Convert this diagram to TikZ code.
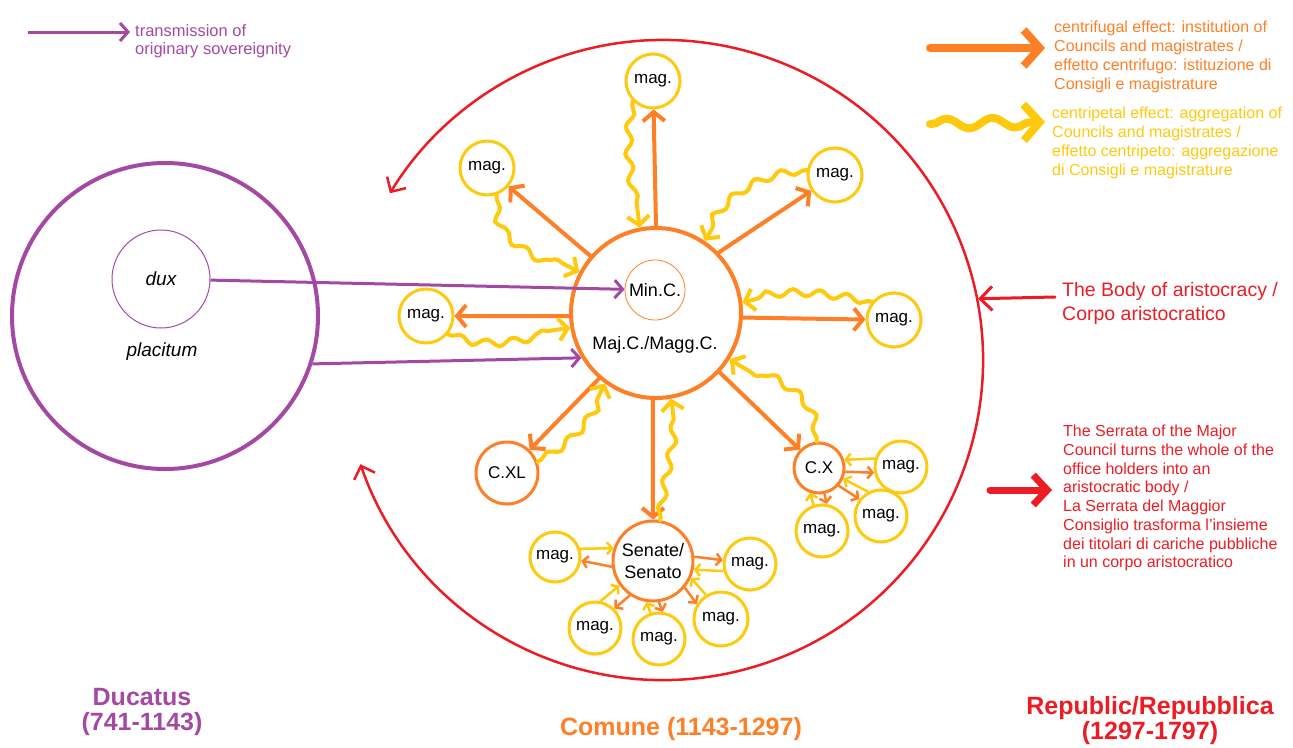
\documentclass[tikz,border=0pt]{standalone}
\usepackage{fontspec}
\setmainfont{Liberation Sans}
\usetikzlibrary{arrows.meta,decorations.pathmorphing,calc}
\definecolor{cpur}{HTML}{A349A4}
\definecolor{cred}{HTML}{ED1C24}
\definecolor{corg}{HTML}{FF7F27}
\definecolor{cyel}{HTML}{FFC90E}
\begin{document}
\begin{tikzpicture}[x=1pt,y=-1pt,
  magn/.style={circle,draw=cyel,line width=3pt,minimum size=54pt,inner sep=0pt,font=\fontsize{17}{20}\selectfont},
  council/.style={circle,draw=corg,line width=3pt,inner sep=0pt,font=\fontsize{18}{22}\selectfont,align=center},
  oarr/.style={draw=corg,line width=4pt,line cap=round,-{Straight Barb[length=9pt,width=22pt]}},
  yarr/.style={draw=cyel,line width=4pt,line cap=round,-{Straight Barb[length=9pt,width=22pt]},decorate,
     decoration={snake,amplitude=3.5pt,segment length=27pt,pre length=4pt,post length=12pt}},
  sarro/.style={draw=corg,line width=2.5pt,-{Straight Barb[length=5pt,width=12pt]}},
  sarry/.style={draw=cyel,line width=2.5pt,-{Straight Barb[length=5pt,width=12pt]}},
  parr/.style={draw=cpur,line width=3pt,-{Straight Barb[length=8pt,width=18pt]}},
  ltext/.style={anchor=north west,inner sep=0pt,align=left,font=\fontsize{16}{19}\selectfont},
  title/.style={align=center,inner sep=0pt,font=\bfseries\fontsize{25}{25}\selectfont}
]
\useasboundingbox (0,0) rectangle (1293,747);

% ---------- legend ----------
\coordinate (lpA) at (28,32);
\coordinate (lpB) at (130,32);
\draw[parr] (lpA) -- (lpB);
\node[ltext,text=cpur,font=\fontsize{16.5}{18}\selectfont] (lptxt) at (135,24) {transmission of\\originary sovereignity};

\coordinate (loA) at (930,48);
\coordinate (loB) at (1045,48);
\draw[draw=corg,line width=8pt,line cap=round,-{Straight Barb[length=16pt,width=36pt]}] (loA) -- (loB);
\node[ltext,text=corg] (lotxt) at (1054,21) {centrifugal effect: institution of\\Councils and magistrates /\\effetto centrifugo: istituzione di\\Consigli e magistrature};

\coordinate (lyA) at (930,124);
\coordinate (lyB) at (1045,122);
\draw[draw=cyel,line width=8pt,line cap=round,-{Straight Barb[length=16pt,width=36pt]},decorate,
  decoration={snake,amplitude=5pt,segment length=46pt,pre length=2pt,post length=14pt}] (lyA) -- (lyB);
\node[ltext,text=cyel] (lytxt) at (1052,107) {centripetal effect: aggregation of\\Councils and magistrates /\\effetto centripeto: aggregazione\\di Consigli e magistrature};

% ---------- Ducatus ----------
\node[circle,draw=cpur,line width=4pt,minimum size=306pt,inner sep=0pt] (plac) at (165,316) {};
\node[circle,draw=cpur,line width=1pt,minimum size=98pt,inner sep=0pt,font=\itshape\fontsize{19}{22}\selectfont] (dux) at (161,279) {dux};
\node[font=\itshape\fontsize{19}{22}\selectfont] (placl) at (162,352) {placitum};

% ---------- Comune ----------
\node[circle,draw=corg,line width=4pt,minimum size=170pt,inner sep=0pt] (maj) at (656,313) {};
\node[circle,draw=corg,line width=0.8pt,minimum size=60pt,inner sep=0pt,font=\fontsize{18}{21}\selectfont] (minc) at (655,290) {Min.C.};
\node[font=\fontsize{18}{21}\selectfont] (majl) at (655,345) {Maj.C./Magg.C.};

\node[magn] (mt) at (653,81) {mag.};
\node[magn] (mul) at (487,168) {mag.};
\node[magn] (mur) at (835,175) {mag.};
\node[magn] (ml) at (426,316) {mag.};
\node[magn] (mr) at (894,320) {mag.};
\node[council,minimum size=62pt,font=\fontsize{17}{20}\selectfont] (cxl) at (507,473) {C.XL};
\node[council,minimum size=80pt] (sen) at (653,561) {Senate/\\Senato};
\node[council,minimum size=50pt,font=\fontsize{17}{20}\selectfont] (cx) at (819,468) {C.X};

\node[magn,minimum size=50pt] (sm1) at (555,557) {mag.};
\node[magn,minimum size=52pt] (sm2) at (750,564) {mag.};
\node[magn,minimum size=52pt] (sm3) at (595,628) {mag.};
\node[magn,minimum size=52pt] (sm4) at (659,639) {mag.};
\node[magn,minimum size=54pt] (sm5) at (721,619) {mag.};
\node[magn,minimum size=52pt] (cm1) at (901,467) {mag.};
\node[magn,minimum size=52pt] (cm2) at (881,516) {mag.};
\node[magn,minimum size=52pt] (cm3) at (822,531) {mag.};

% centrifugal arrows
\draw[oarr] (maj.90) -- (mt);
\draw[oarr] (maj.139) -- (mul);
\draw[oarr] (maj.44) -- (mur);
\draw[oarr] (maj.182) -- (ml);
\draw[oarr] (maj.-3) -- (mr);
\draw[oarr] (maj.229) -- (cxl);
\draw[oarr] (maj.268) -- (sen);
\draw[oarr] (maj.317) -- (cx);

% centripetal arrows
\draw[yarr] (mt.225) to[out=-100,in=95] (maj.101);
\draw[yarr] (mul.-70) to[out=-95,in=150] (maj.152);
\draw[yarr] (mur.170) to[out=185,in=60] (maj.56);
\draw[yarr] (ml.-40) to[out=-20,in=185] (maj.190);
\draw[yarr] (mr.140) to[out=170,in=15] (maj.7);
\draw[yarr] (cxl.20) to[out=30,in=-115] (maj.234);
\draw[yarr] (sen.80) to[out=85,in=-80] (maj.280);
\draw[yarr] (cx.95) to[out=90,in=-35] (maj.328);

% Senate cluster
\draw[sarry] (sm1.18) -- (sen.162);
\draw[sarro] (sen.188) -- (sm1.-8);
\draw[sarro] (sen.6) -- (sm2.172);
\draw[sarry] (sm2.195) -- (sen.-12);
\draw[sarry] (sm3.78) -- (sen.216);
\draw[sarro] (sen.236) -- (sm3.45);
\draw[sarry] (sm4.108) -- (sen.261);
\draw[sarro] (sen.278) -- (sm4.82);
\draw[sarro] (sen.-40) -- (sm5.148);
\draw[sarry] (sm5.122) -- (sen.-24);

% C.X cluster
\draw[sarry] (cm1.162) -- (cx.18);
\draw[sarro] (cx.-8) -- (cm1.192);
\draw[sarro] (cx.-42) -- (cm2.142);
\draw[sarry] (cm2.118) -- (cx.-24);
\draw[sarry] (cm3.108) -- (cx.-110);
\draw[sarro] (cx.-78) -- (cm3.80);

% transmission of sovereignty
\draw[parr] (dux) -- (minc);
\draw[parr] (plac.-18) -- (maj.211);

% ---------- Republic ----------
\coordinate (rc) at (663,360);
\draw[cred,line width=2.5pt,{Straight Barb[length=11pt,width=22pt]}-{Straight Barb[length=11pt,width=22pt]}]
  ($(rc)+(199:320pt)$) arc[start angle=199,end angle=508.6,radius=320pt];
\coordinate (rcE) at ($(rc)+(11:321pt)$);
\node[ltext,text=cred,font=\fontsize{19.5}{24}\selectfont] (body) at (1062,282) {The Body of aristocracy /\\Corpo aristocratico};
\coordinate (bodyS) at (1055,297);
\draw[cred,line width=3pt,line cap=round,-{Straight Barb[length=12pt,width=24pt]}] (bodyS) -- (rcE);

\node[ltext,text=cred,font=\fontsize{16}{18.7}\selectfont] (ser) at (1063,425) {The Serrata of the Major\\Council turns the whole of the\\office holders into an\\aristocratic body /\\La Serrata del Maggior\\Consiglio trasforma l'insieme\\dei titolari di cariche pubbliche\\in un corpo aristocratico};
\coordinate (serA) at (990,490);
\coordinate (serB) at (1052,490);
\draw[cred,line width=7pt,line cap=round,-{Straight Barb[length=14pt,width=30pt]}] (serA) -- (serB);

% ---------- titles ----------
\node[title,text=cpur] (tduc) at (142,712) {Ducatus\\(741-1143)};
\node[title,text=corg] (tcom) at (681,729) {Comune (1143-1297)};
\node[title,text=cred] (trep) at (1150,721) {Republic/Repubblica\\(1297-1797)};
\end{tikzpicture}
\end{document}
